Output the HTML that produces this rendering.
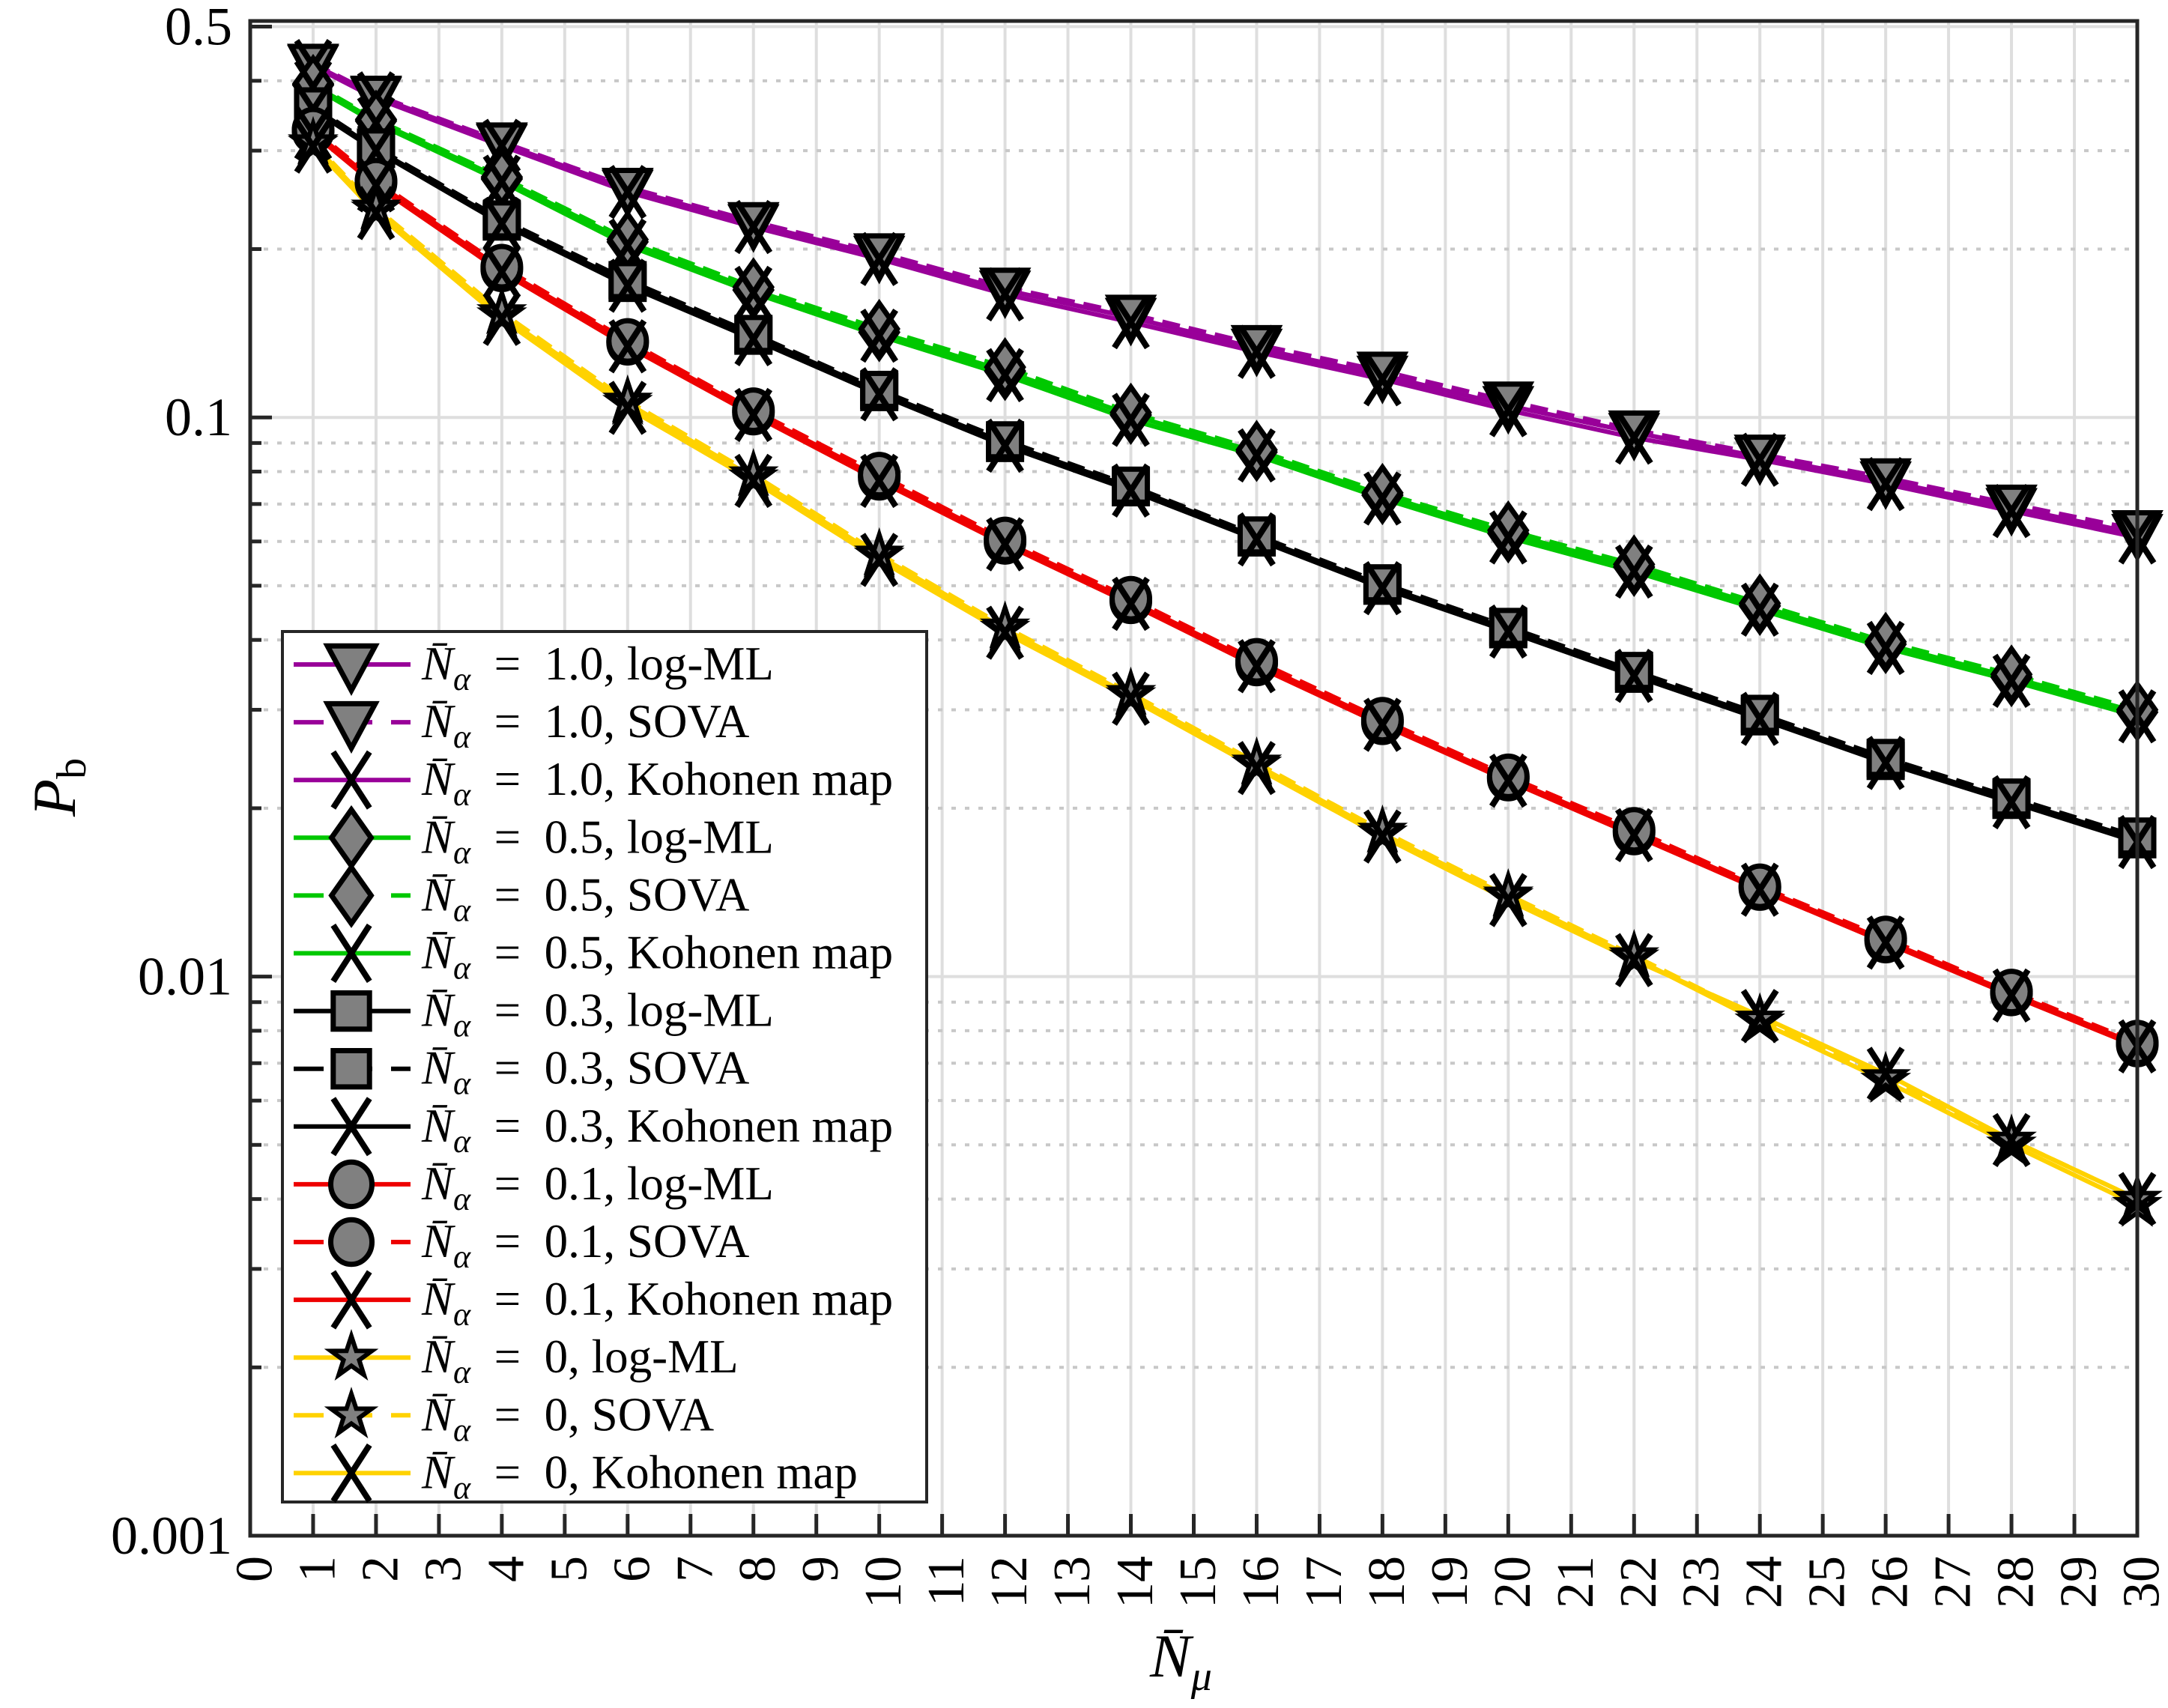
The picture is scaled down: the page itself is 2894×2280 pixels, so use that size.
<!DOCTYPE html>
<html><head><meta charset="utf-8"><style>
html,body{margin:0;padding:0;background:#fff}
svg{display:block}
text{font-family:"Liberation Serif",serif;fill:#000}
</style></head><body>
<svg id="chart" xmlns="http://www.w3.org/2000/svg" width="2894" height="2280" viewBox="0 0 2894 2280">
<rect width="2894" height="2280" fill="#fff"/>
<g id="grid"></g>
<g id="series"></g>
<g id="axes"></g>
<g id="legend"></g>
</svg>
<script>
const xValues=[1,2,4,6,8,10,12,14,16,18,20,22,24,26,28,30];
const a10LogML=[0.428,0.375,0.309,0.256,0.222,0.195,0.169,0.151,0.133,0.119,0.105,0.094,0.085,0.077,0.069,0.062];
const a10Sova=[0.430,0.377,0.311,0.258,0.224,0.197,0.171,0.153,0.135,0.121,0.107,0.095,0.086,0.078,0.070,0.063];
const a10Koh=[0.425,0.372,0.306,0.253,0.219,0.192,0.166,0.148,0.131,0.117,0.103,0.092,0.084,0.076,0.068,0.061];
const a05LogML=[0.393,0.339,0.267,0.206,0.169,0.142,0.121,0.101,0.0867,0.0726,0.062,0.054,0.046,0.0393,0.0343,0.0297];
const a05Sova=[0.395,0.341,0.269,0.208,0.171,0.144,0.123,0.102,0.0875,0.0733,0.0628,0.0546,0.0465,0.0397,0.0347,0.0300];
const a05Koh=[0.390,0.336,0.264,0.203,0.167,0.140,0.119,0.099,0.0855,0.0716,0.061,0.053,0.0453,0.0387,0.0338,0.0292];
const a03LogML=[0.358,0.302,0.224,0.174,0.140,0.111,0.090,0.075,0.061,0.050,0.0418,0.0348,0.0292,0.0243,0.0207,0.0176];
const a03Sova=[0.360,0.304,0.226,0.176,0.141,0.112,0.091,0.0755,0.0615,0.0505,0.0422,0.0352,0.0295,0.0246,0.0209,0.0178];
const a03Koh=[0.355,0.300,0.222,0.172,0.138,0.110,0.089,0.074,0.0605,0.0495,0.0414,0.0345,0.0289,0.0241,0.0205,0.0174];
const a01LogML=[0.325,0.263,0.184,0.136,0.102,0.078,0.0599,0.0469,0.0363,0.0285,0.0226,0.0181,0.0144,0.0116,0.00933,0.00756];
const a01Sova=[0.327,0.265,0.186,0.137,0.103,0.079,0.0605,0.0474,0.0367,0.0288,0.0228,0.0183,0.0145,0.0117,0.00940,0.00762];
const a01Koh=[0.322,0.260,0.182,0.134,0.101,0.077,0.0593,0.0464,0.0359,0.0282,0.0224,0.0179,0.0143,0.0115,0.00925,0.00750];
const a00LogML=[0.308,0.235,0.152,0.106,0.078,0.0565,0.0418,0.0318,0.0239,0.0180,0.0139,0.0108,0.0083,0.0065,0.0050,0.0039];
const a00Sova=[0.310,0.237,0.154,0.107,0.079,0.0570,0.0422,0.0321,0.0241,0.0182,0.0140,0.0109,0.0084,0.0066,0.0051,0.0040];
const a00Koh=[0.305,0.232,0.150,0.104,0.077,0.0556,0.0412,0.0314,0.0236,0.0178,0.0137,0.0107,0.0085,0.0067,0.0051,0.0040];
const yTickValues=[0.5,0.1,0.01,0.001];
const yTickLabels=["0.5","0.1","0.01","0.001"];
const legendLabels=["1.0, log-ML","1.0, SOVA","1.0, Kohonen map","0.5, log-ML","0.5, SOVA","0.5, Kohonen map","0.3, log-ML","0.3, SOVA","0.3, Kohonen map","0.1, log-ML","0.1, SOVA","0.1, Kohonen map","0, log-ML","0, SOVA","0, Kohonen map"];

const NS="http://www.w3.org/2000/svg";
const L=334,R=2853,T=28,B=2050;
const XMIN=0,XMAX=30,YMIN=0.001,YMAXLOG=-0.291;
function sx(v){return L+(v-XMIN)/(XMAX-XMIN)*(R-L);}
function sy(v){const lg=Math.log10(v),l0=Math.log10(YMIN);return B-(lg-l0)/(YMAXLOG-l0)*(B-T);}
function mk(tag,attrs,parent){const e=document.createElementNS(NS,tag);for(const k in attrs)e.setAttribute(k,attrs[k]);parent.appendChild(e);return e;}

const grid=document.getElementById('grid'),axes=document.getElementById('axes'),ser=document.getElementById('series'),leg=document.getElementById('legend');
for(let i=1;i<30;i++){const g=mk('line',{x1:sx(i),x2:sx(i),y1:T,y2:B,stroke:'#dedede','stroke-width':4},grid);

}
for(let d=-3;d<=-1;d++){for(let m=1;m<=9;m++){const v=m*Math.pow(10,d);if(v<=YMIN||Math.log10(v)>YMAXLOG)continue;
const y=sy(v);const major=(m===1);
const g=mk('line',{x1:L,x2:R,y1:y,y2:y,stroke:major?'#dedede':'#c8c8c8','stroke-width':4,'stroke-dasharray':major?'none':'6 12'},grid);


const t=mk('line',{x1:L,x2:L+(major?29:15),y1:y,y2:y,stroke:'#262626','stroke-width':5},axes);

}}
{const y=sy(0.5);const g=mk('line',{x1:L,x2:R,y1:y,y2:y,stroke:'#dedede','stroke-width':4},grid);


const t=mk('line',{x1:L,x2:L+29,y1:y,y2:y,stroke:'#262626','stroke-width':5},axes);

}

const groups=[
 {color:'#990099',marker:'tri',data:[a10LogML,a10Sova,a10Koh]},
 {color:'#00c800',marker:'dia',data:[a05LogML,a05Sova,a05Koh]},
 {color:'#000000',marker:'sq',data:[a03LogML,a03Sova,a03Koh]},
 {color:'#ee0000',marker:'circ',data:[a01LogML,a01Sova,a01Koh]},
 {color:'#ffd200',marker:'star',data:[a00LogML,a00Sova,a00Koh]}];

function drawMarker(type,x,y,parent,scale){
 scale=scale||1;const st={fill:'#808080',stroke:'#000','stroke-width':7,'stroke-linejoin':'miter'};let e;
 if(type==='tri'){const w=29*scale,h=30*scale;e=mk('polygon',Object.assign({points:`${x-w},${y-h*0.75} ${x+w},${y-h*0.75} ${x},${y+h*1.05}`},st),parent);}
 else if(type==='dia'){const w=24*scale,h=34*scale;e=mk('polygon',Object.assign({points:`${x},${y-h} ${x+w},${y} ${x},${y+h} ${x-w},${y}`},st),parent);}
 else if(type==='sq'){const s=22*scale;e=mk('rect',Object.assign({x:x-s,y:y-s,width:2*s,height:2*s},st),parent);}
 else if(type==='circ'){e=mk('ellipse',Object.assign({cx:x,cy:y,rx:25*scale,ry:27*scale},st),parent);}
 else if(type==='star'){let p=[];for(let i=0;i<10;i++){const r=(i%2?10:26)*scale,a=-Math.PI/2+i*Math.PI/5;p.push((x+r*Math.cos(a)).toFixed(1)+','+(y+r*Math.sin(a)).toFixed(1));}
   e=mk('polygon',Object.assign({points:p.join(' ')},st,{'stroke-width':6}),parent);}
 else {const s=22*scale,h=34*scale;e=mk('path',{d:`M${x-s},${y-h}L${x+s},${y+h}M${x+s},${y-h}L${x-s},${y+h}`,stroke:'#000','stroke-width':8,fill:'none'},parent);}
 return e;}

const styles=['solid','dash','solid'];
groups.forEach((g,gi)=>{
 g.data.forEach((arr,si)=>{
  const pts=arr.map((v,i)=>sx(xValues[i]).toFixed(1)+','+sy(v).toFixed(1)).join(' ');
  const pl=mk('polyline',{points:pts,fill:'none',stroke:g.color,'stroke-width':6,'stroke-dasharray':styles[si]==='dash'?'24 12':'none'},ser);
  
  
 });
});
groups.forEach((g,gi)=>{
 g.data.forEach((arr,si)=>{
  arr.forEach((v,i)=>{
   const m=drawMarker(si===2?'x':g.marker,sx(xValues[i]),sy(v),ser);
   
   
  });
 });
});

const box=mk('rect',{x:L,y:T,width:R-L,height:B-T,fill:'none',stroke:'#262626','stroke-width':5},axes);


for(let i=0;i<=30;i++){const x=sx(i);
 const t=mk('line',{x1:x,x2:x,y1:B,y2:B-29,stroke:'#262626','stroke-width':5},axes);
 
 
 const lb=mk('text',{x:x,y:2074,'font-size':70,'text-anchor':'end','dominant-baseline':'central',transform:`rotate(-90 ${x+3} 2074) translate(0 3)`},axes);
 lb.textContent=String(i);
 
 }
yTickValues.forEach((v,i)=>{const lb=mk('text',{x:310,y:sy(v)+24,'font-size':72,'text-anchor':'end'},axes);
 lb.textContent=yTickLabels[i];
 
 });
const xt=mk('text',{x:1535,y:2238,'font-size':82,'font-style':'italic'},axes);
xt.innerHTML='N&#772;<tspan font-size="56" dy="18">μ</tspan>';


const yt=mk('text',{x:0,y:0,'font-size':82,'font-style':'italic',transform:'translate(100 1090) rotate(-90)'},axes);
yt.innerHTML='P<tspan font-size="56" font-style="normal" dy="14">b</tspan>';



const lbx=mk('rect',{x:377,y:843,width:860,height:1162,fill:'#fff',stroke:'#262626','stroke-width':4},leg);


legendLabels.forEach((lab,i)=>{
 const g=groups[Math.floor(i/3)],si=i%3,y=887+i*77.1;
 const ent=mk('g',{},leg);
 
 
 mk('line',{x1:392,x2:548,y1:y,y2:y,stroke:g.color,'stroke-width':6,'stroke-dasharray':si===1?'40 25':'none'},ent);
 drawMarker(si===2?'x':g.marker,469,y,ent,1.1);
 const t=mk('text',{x:563,y:y+20,'font-size':63},ent);
 t.innerHTML='<tspan font-style="italic">N&#772;</tspan><tspan font-style="italic" font-size="44" dy="14">α</tspan><tspan dy="-14"> &#160;= &#160;'+lab+'</tspan>';
});
</script>
</body></html>
